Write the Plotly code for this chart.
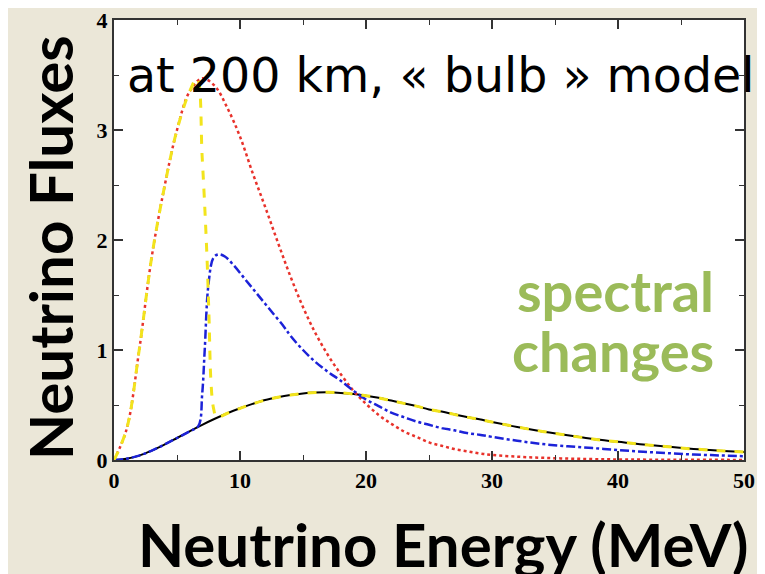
import plotly.graph_objects as go

# ---- data ----
red_E = [0, 1, 2, 3, 4, 5, 6, 7, 8, 9, 10, 11, 12, 13, 14, 15, 16, 17, 18, 19, 20,
         21, 22, 23, 24, 25, 26, 27, 28, 29, 30, 32, 34, 36, 38, 40, 45, 50]
red_F = [0, 0.28, 1.0, 1.85, 2.48, 3.0, 3.35, 3.47, 3.40, 3.20, 2.94, 2.61, 2.30, 1.98,
         1.67, 1.39, 1.15, 0.95, 0.78, 0.63, 0.51, 0.41, 0.33, 0.26, 0.21, 0.16, 0.13,
         0.10, 0.08, 0.06, 0.046, 0.03, 0.02, 0.013, 0.008, 0.005, 0.002, 0.001]

black_E = [0, 1, 2, 3, 4, 5, 6, 7, 8, 9, 10, 11, 12, 13, 14, 15, 16, 17, 18, 19, 20,
           21, 22, 23, 24, 25, 26, 27, 28, 29, 30, 32, 34, 36, 38, 40, 42, 44, 46, 48, 50]
black_F = [0, 0.012, 0.04, 0.085, 0.14, 0.2, 0.26, 0.32, 0.375, 0.425, 0.47, 0.51, 0.545,
           0.57, 0.59, 0.605, 0.613, 0.615, 0.61, 0.60, 0.585, 0.565, 0.54, 0.515, 0.49,
           0.46, 0.44, 0.415, 0.39, 0.37, 0.345, 0.30, 0.26, 0.225, 0.19, 0.165, 0.14,
           0.12, 0.10, 0.085, 0.072]

yellow_E = [0, 1, 2, 3, 4, 5, 6, 6.6, 7.0, 7.36, 7.54, 7.7, 7.9, 8.15, 9, 10, 11, 12, 13,
            14, 15, 16, 17, 18, 19, 20, 21, 22, 23, 24, 25, 26, 27, 28, 29, 30, 32, 34,
            36, 38, 40, 42, 44, 46, 48, 50]
yellow_F = [0, 0.28, 1.0, 1.85, 2.48, 3.0, 3.35, 3.47, 2.75, 1.9, 1.3, 0.7, 0.47, 0.39,
            0.425, 0.47, 0.51, 0.545, 0.57, 0.59, 0.605, 0.613, 0.615, 0.61, 0.60, 0.585,
            0.565, 0.54, 0.515, 0.49, 0.46, 0.44, 0.415, 0.39, 0.37, 0.345, 0.30, 0.26,
            0.225, 0.19, 0.165, 0.14, 0.12, 0.10, 0.085, 0.072]

blue_E = [0, 1, 2, 3, 4, 5, 6, 6.7, 7.0, 7.2, 7.5, 7.9, 8.3, 8.8, 9.5, 10.5, 11.5, 12.5,
          13.5, 14, 15, 16, 17, 18, 19, 20, 21, 22, 23, 24, 25, 26, 27, 28, 29, 30, 32,
          34, 36, 38, 40, 42, 44, 46, 48, 50]
blue_F = [0, 0.012, 0.04, 0.085, 0.14, 0.2, 0.26, 0.31, 0.6, 1.0, 1.6, 1.84, 1.87, 1.85,
          1.77, 1.63, 1.49, 1.35, 1.21, 1.13, 1.0, 0.89, 0.80, 0.72, 0.63, 0.55, 0.49,
          0.43, 0.39, 0.35, 0.32, 0.29, 0.27, 0.245, 0.23, 0.21, 0.175, 0.145, 0.125,
          0.108, 0.09, 0.075, 0.062, 0.05, 0.042, 0.034]

x_ticks = [0, 10, 20, 30, 40, 50]
y_ticks = [0, 1, 2, 3, 4]

fig = go.Figure()
fig.add_trace(go.Scatter(x=black_E, y=black_F, mode="lines",
                         line=dict(color="black", width=2), line_shape="spline"))
fig.add_trace(go.Scatter(x=red_E, y=red_F, mode="lines",
                         line=dict(color="#e8322b", width=2.5, dash="dot"), line_shape="spline"))
fig.add_trace(go.Scatter(x=blue_E, y=blue_F, mode="lines",
                         line=dict(color="#1c22d8", width=2.5, dash="dashdot"), line_shape="spline"))
fig.add_trace(go.Scatter(x=yellow_E, y=yellow_F, mode="lines",
                         line=dict(color="#f2e41c", width=3, dash="dash"), line_shape="spline"))

axis_common = dict(showline=True, linecolor="#333333", linewidth=2, mirror="ticks",
                   ticks="inside", ticklen=9, tickwidth=1.5, tickcolor="#333333",
                   showgrid=False, zeroline=False, automargin=False,
                   ticklabeloverflow="allow",
                   tickfont=dict(family="Liberation Serif", size=22, color="black", weight="bold"))

fig.update_xaxes(range=[0, 50], tickvals=x_ticks,
                 minor=dict(ticks="inside", dtick=5, ticklen=5, tickcolor="#333333", tickwidth=1.2),
                 **axis_common)
fig.update_yaxes(range=[0, 4], tickvals=y_ticks,
                 minor=dict(ticks="inside", dtick=0.5, ticklen=5, tickcolor="#333333", tickwidth=1.2),
                 **axis_common)

fig.add_annotation(text="at 200 km, « bulb » model", xref="paper", yref="paper",
                   x=0.0175, y=0.873, xanchor="left", yanchor="middle", showarrow=False,
                   font=dict(family="DejaVu Sans", size=47.5, color="black"))
fig.add_annotation(text="Neutrino Fluxes", xref="paper", yref="paper",
                   x=-0.1016, y=0.484, xanchor="center", yanchor="middle", textangle=-90,
                   showarrow=False,
                   font=dict(family="Lato", size=60, color="black", weight="bold"))
fig.add_annotation(text="Neutrino Energy (MeV)", xref="paper", yref="paper",
                   x=0.522, y=-0.19, xanchor="center", yanchor="middle", showarrow=False,
                   font=dict(family="Lato", size=60, color="black", weight="bold"))
fig.add_annotation(text="spectral", xref="paper", yref="paper",
                   x=0.9556, y=0.386, xanchor="right", yanchor="middle", showarrow=False,
                   font=dict(family="Lato", size=56, color="#9bbb59", weight="bold"))
fig.add_annotation(text="changes", xref="paper", yref="paper",
                   x=0.9556, y=0.25, xanchor="right", yanchor="middle", showarrow=False,
                   font=dict(family="Lato", size=56, color="#9bbb59", weight="bold"))

fig.update_layout(width=765, height=574, showlegend=False,
                  paper_bgcolor="#ebe7d8", plot_bgcolor="white",
                  margin=dict(l=106, r=29, t=12, b=122))

fig.write_html("out.html")
